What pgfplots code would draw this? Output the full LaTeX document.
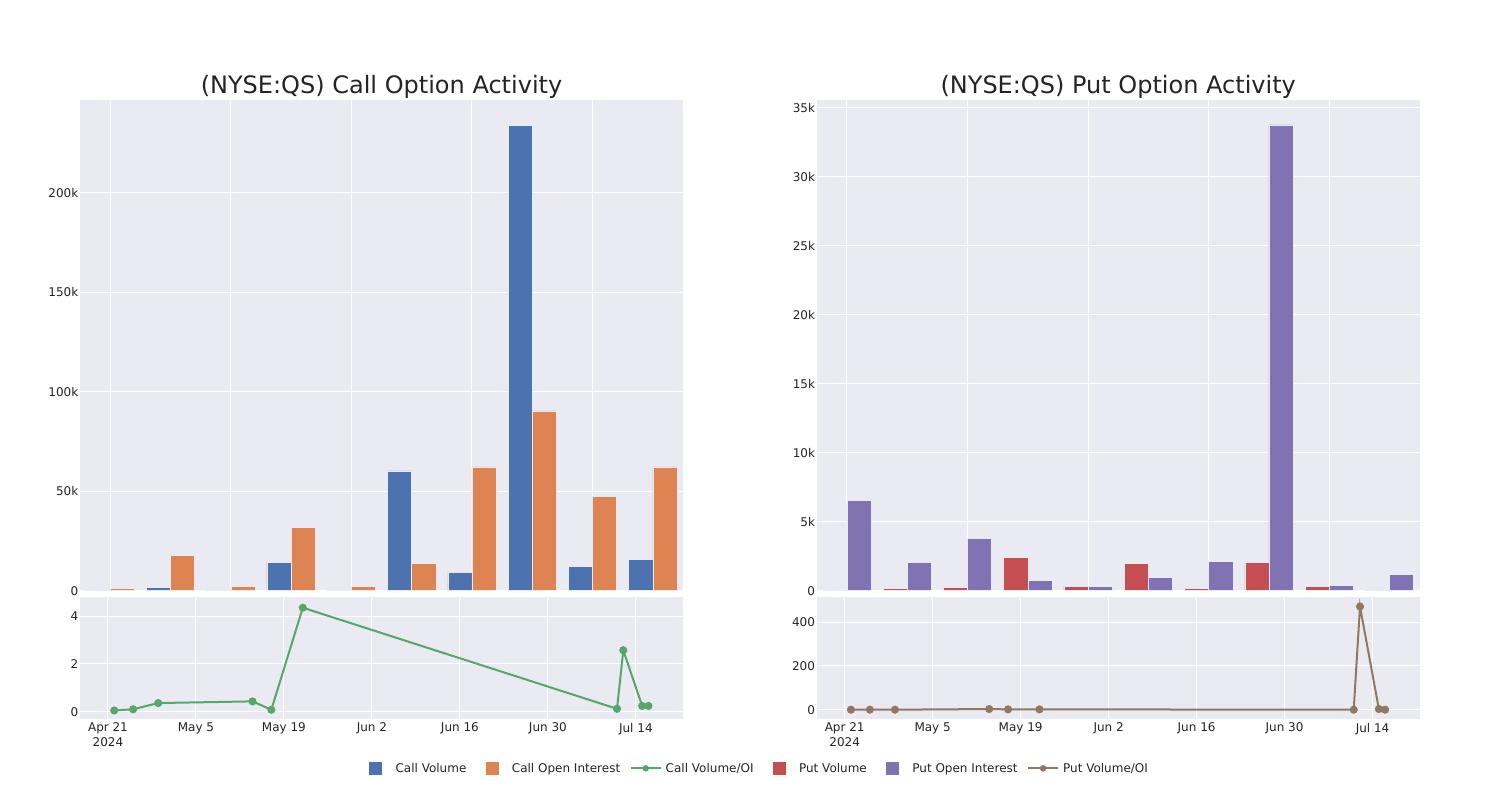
\documentclass[border=0pt]{standalone}
\usepackage{pgfplots}
\pgfplotsset{compat=1.18}
\usepackage{fontspec}
\setmainfont{DejaVu Sans}
\definecolor{cblue}{HTML}{4C72B0}
\definecolor{corange}{HTML}{DD8452}
\definecolor{cgreen}{HTML}{55A868}
\definecolor{cred}{HTML}{C44E52}
\definecolor{cpurple}{HTML}{8172B3}
\definecolor{cbrown}{HTML}{937860}
\definecolor{bgc}{HTML}{EAEAF2}
\definecolor{txt}{HTML}{242424}

\pgfplotstableread{
g vol oi
0 0.2 1.2
1 1.84 17.6
2 0.84 2.2
3 14.4 31.9
4 0.17 2.2
5 60.2 13.7
6 9.2 62.2
7 234.0 90.4
8 12.4 47.5
9 15.9 62.2
}\calldata

\pgfplotstableread{
g vol oi
0 0.0 6.53
1 0.15 2.04
2 0.24 3.79
3 2.40 0.75
4 0.34 0.34
5 1.97 0.95
6 0.19 2.11
7 2.04 33.74
8 0.34 0.41
9 0.0 1.17
}\putdata

\pgfplotstableread{
d r
1 0.05
4 0.10
8 0.36
23 0.43
26 0.08
31 4.35
81 0.12
82 2.57
85 0.24
86 0.24
}\callratio

\pgfplotstableread{
d r
1 0
4 0
8 0
23 3
26 1.5
31 1.5
81 0
82 472
85 3
86 0
}\putratio

\pgfplotsset{
  base/.style={
    scale only axis, width=603pt, anchor=north west,
    axis background/.style={fill=bgc},
    axis line style={draw=none},
    grid=major, major grid style={white, line width=1pt},
    major tick length=0pt,
    tick label style={font=\fontsize{12}{15}\selectfont, text=txt},
    yticklabel style={inner xsep=1.5pt},
    /pgf/number format/assume math mode=true,
  },
  bars/.style={base, height=490.7pt, xmin=-0.5, xmax=9.5, ymin=0,
    xtick={0,2,4,6,8}, xticklabels={},
    title style={font=\fontsize{24}{28}\selectfont, text=txt, anchor=base, at={(0.5,1)}, yshift=1pt}},
  lines/.style={base, height=122.6pt, xmin=-4.45, xmax=91.5,
    xtick={0,14,28,42,56,70,84},
    xticklabels={{Apr 21\\2024},May 5,May 19,Jun 2,Jun 16,Jun 30,Jul 14},
    xticklabel style={align=center, inner ysep=3.5pt}},
}

\begin{document}
\begin{tikzpicture}
\path[use as bounding box] (0pt,0pt) rectangle (1500pt,-800pt);

\begin{axis}[bars, at={(80pt,-100pt)}, ymax=246.6,
  title={(NYSE:QS) Call Option Activity},
  ytick={0,50,100,150,200}, yticklabels={0,50k,100k,150k,200k}]
\addplot[ybar, bar width=0.4, bar shift=-0.2, fill=cblue, draw=bgc, line width=0.5pt] table[x=g, y=vol] {\calldata};
\addplot[ybar, bar width=0.4, bar shift=0.2, fill=corange, draw=bgc, line width=0.5pt] table[x=g, y=oi] {\calldata};
\end{axis}

\begin{axis}[bars, at={(816.7pt,-100pt)}, ymax=35.55,
  title={(NYSE:QS) Put Option Activity},
  ytick={0,5,10,15,20,25,30,35}, yticklabels={0,5k,10k,15k,20k,25k,30k,35k}]
\addplot[ybar, bar width=0.4, bar shift=-0.2, fill=cred, draw=bgc, line width=0.5pt] table[x=g, y=vol] {\putdata};
\addplot[ybar, bar width=0.4, bar shift=0.2, fill=cpurple, draw=bgc, line width=0.5pt] table[x=g, y=oi] {\putdata};
\end{axis}

\begin{axis}[lines, at={(80pt,-596.7pt)}, ymin=-0.32, ymax=4.81, ytick={0,2,4},
  legend columns=6,
  legend style={draw=none, fill=none, at={(1.114,-0.40)}, anchor=center,
    font=\fontsize{12}{15}\selectfont, text=txt,
    nodes={inner xsep=0pt, inner ysep=1pt},
    /tikz/every even column/.append style={column sep=5.5pt}},
]
\addplot[forget plot, cgreen, line width=2pt, mark=*, mark size=3pt] table[x=d, y=r] {\callratio};
\addlegendimage{legend image code/.code={\path[draw=none, fill=none] (0pt,-6.5pt) rectangle (40pt,6.5pt); \fill[cblue] (14pt,-6pt) rectangle (26pt,6pt);}}
\addlegendentry{Call Volume}
\addlegendimage{legend image code/.code={\path[draw=none, fill=none] (0pt,-6.5pt) rectangle (40pt,6.5pt); \fill[corange] (14pt,-6pt) rectangle (26pt,6pt);}}
\addlegendentry{Call Open Interest}
\addlegendimage{legend image code/.code={\path[draw=none, fill=none] (0pt,-6.5pt) rectangle (40pt,6.5pt); \draw[cgreen, line width=2pt] (5pt,0pt) -- (35pt,0pt); \fill[cgreen] (20pt,0pt) circle (3pt);}}
\addlegendentry{Call Volume/OI}
\addlegendimage{legend image code/.code={\path[draw=none, fill=none] (0pt,-6.5pt) rectangle (40pt,6.5pt); \fill[cred] (14pt,-6pt) rectangle (26pt,6pt);}}
\addlegendentry{Put Volume}
\addlegendimage{legend image code/.code={\path[draw=none, fill=none] (0pt,-6.5pt) rectangle (40pt,6.5pt); \fill[cpurple] (14pt,-6pt) rectangle (26pt,6pt);}}
\addlegendentry{Put Open Interest}
\addlegendimage{legend image code/.code={\path[draw=none, fill=none] (0pt,-6.5pt) rectangle (40pt,6.5pt); \draw[cbrown, line width=2pt] (5pt,0pt) -- (35pt,0pt); \fill[cbrown] (20pt,0pt) circle (3pt);}}
\addlegendentry{Put Volume/OI}
\end{axis}

\begin{axis}[lines, at={(816.7pt,-596.7pt)}, ymin=-44, ymax=517, ytick={0,200,400}]
\addplot[cbrown, line width=2pt, mark=*, mark size=3pt] table[x=d, y=r] {\putratio};
\end{axis}

\end{tikzpicture}
\end{document}
